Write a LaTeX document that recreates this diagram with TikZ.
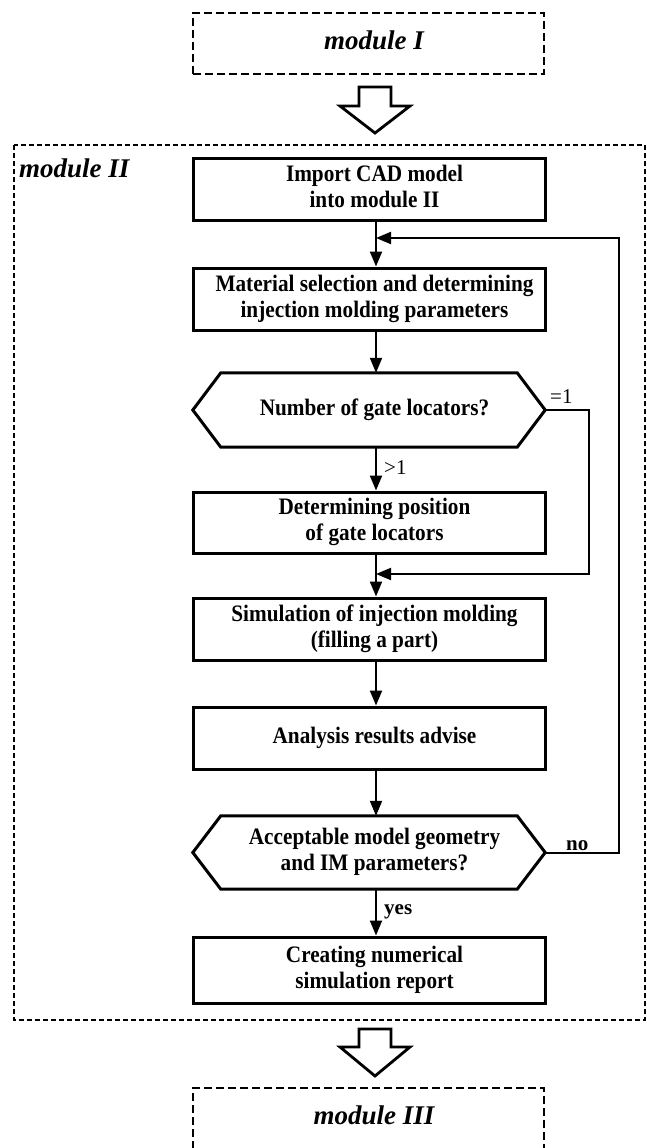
\documentclass[tikz,border=0pt]{standalone}
\usepackage{fontspec}
\setmainfont{Liberation Serif}
% narrow, tall face for the step texts
\newfontfamily\narrowserif{Liberation Serif}[FakeStretch=0.9]
\usetikzlibrary{arrows.meta}
% centred label, nudged slightly right inside its box
\newcommand{\flowtext}[1]{\hspace*{11pt}\begin{tabular}{@{}c@{}}#1\end{tabular}}
% two-line variant, set a little lower
\newcommand{\flowpair}[1]{\hspace*{11pt}\raisebox{-4.5pt}{\begin{tabular}{@{}c@{}}#1\end{tabular}}}
\begin{document}
\begin{tikzpicture}[x=1pt,y=-1pt,
  boxfont/.style={font=\narrowserif\fontsize{23.6}{26}\selectfont\bfseries},
  modfont/.style={font=\fontsize{27}{30}\selectfont\bfseries\itshape},
  stepbox/.style={boxfont, draw, line width=3pt, minimum width=352pt,
    minimum height=62pt, inner sep=0pt},
  hexbox/.style={boxfont, minimum width=352pt, minimum height=74pt, inner sep=0pt},
  hexline/.style={line width=3pt, line join=miter},
  modbox/.style={modfont, draw, line width=2.6pt, dash pattern=on 8pt off 4pt,
    minimum width=351pt, minimum height=61pt, inner sep=0pt},
  outerbox/.style={line width=1.7pt, dash pattern=on 5pt off 3pt},
  arr/.style={line width=2pt, -{Triangle[length=15pt,width=12pt]}},
  link/.style={line width=2pt},
  hollow/.style={line width=2.8pt, line join=miter},
  cond/.style={font=\fontsize{21}{24}\selectfont, inner sep=0pt, anchor=base west},
  condb/.style={cond, font=\fontsize{21}{24}\selectfont\bfseries},
]
\useasboundingbox (0,0) rectangle (647,1148);

% vertical axis of the flow connectors and the x positions of the feedback lines
\coordinate (ax) at (376,0);
\coordinate (loopone) at (589,0);
\coordinate (looptwo) at (619,0);

% module frames
\node[modbox] (m1) at (368.5,43.5) {\flowtext{module I}};
\draw[outerbox] (14,145) rectangle (645,1020);
\node[modfont, inner sep=0pt, anchor=base west] (m2) at (19,177) {module II};
\node[modbox] (m3) at (368.5,1118.5) {\flowtext{module III}};

% hollow arrows between modules
\coordinate (ha1) at (375,87);
\draw[hollow] (ha1) ++(-16,0) -- ++(32,0) -- ++(0,19) -- ++(19,0) -- ++(-35,27)
  -- ++(-35,-27) -- ++(19,0) -- cycle;
\coordinate (ha2) at (375,1029);
\draw[hollow] (ha2) ++(-16,0) -- ++(32,0) -- ++(0,18) -- ++(19,0) -- ++(-35,29)
  -- ++(-35,-29) -- ++(19,0) -- cycle;

% process steps
\node[stepbox] (b1) at (369,189) {\flowpair{Import CAD model\\into module II}};
\node[stepbox] (b2) at (369,299) {\flowpair{Material selection and determining\\injection molding parameters}};
\node[hexbox] (h1) at (369,410) {\flowtext{Number of gate locators?}};
\node[stepbox, minimum height=61pt] (b3) at (369,522.5) {\flowpair{Determining position\\of gate locators}};
\node[stepbox] (b4) at (369,629) {\flowpair{Simulation of injection molding\\(filling a part)}};
\node[stepbox] (b5) at (369,738) {\flowtext{Analysis results advise}};
\node[hexbox, minimum height=73pt] (h2) at (369,852.5) {\flowpair{Acceptable model geometry\\and IM parameters?}};
\node[stepbox, minimum height=66pt] (b6) at (369,970) {\flowpair{Creating numerical\\simulation report}};

% decision outlines
\foreach \h in {h1,h2}
  \draw[hexline] (\h.west) -- ([xshift=28pt]\h.north west) -- ([xshift=-28pt]\h.north east)
    -- (\h.east) -- ([xshift=-28pt]\h.south east) -- ([xshift=28pt]\h.south west) -- cycle;

% junctions where the side branches rejoin the main line
\coordinate (j1) at (376,238);
\coordinate (j2) at (376,574);

% main flow
\draw[link] (b1.south -| ax) -- (j1);
\draw[arr] (j1) -- (b2.north -| ax);
\draw[arr] (b2.south -| ax) -- (h1.north -| ax);
\draw[arr] (h1.south -| ax) -- (b3.north -| ax);
\draw[link] (b3.south -| ax) -- (j2);
\draw[arr] (j2) -- (b4.north -| ax);
\draw[arr] (b4.south -| ax) -- (b5.north -| ax);
\draw[arr] (b5.south -| ax) -- (h2.north -| ax);
\draw[arr] (h2.south -| ax) -- (b6.north -| ax);

% side branches
\draw[arr] (h1.east) -- (h1.east -| loopone) |- (j2);
\draw[arr] (h2.east) -- (h2.east -| looptwo) |- (j1);

% branch labels
\node[cond] (c1) at (550,403) {=1};
\node[cond] (c2) at (384,474) {>1};
\node[condb] (c3) at (566,850) {no};
\node[condb] (c4) at (384,914) {yes};
\end{tikzpicture}
\end{document}
